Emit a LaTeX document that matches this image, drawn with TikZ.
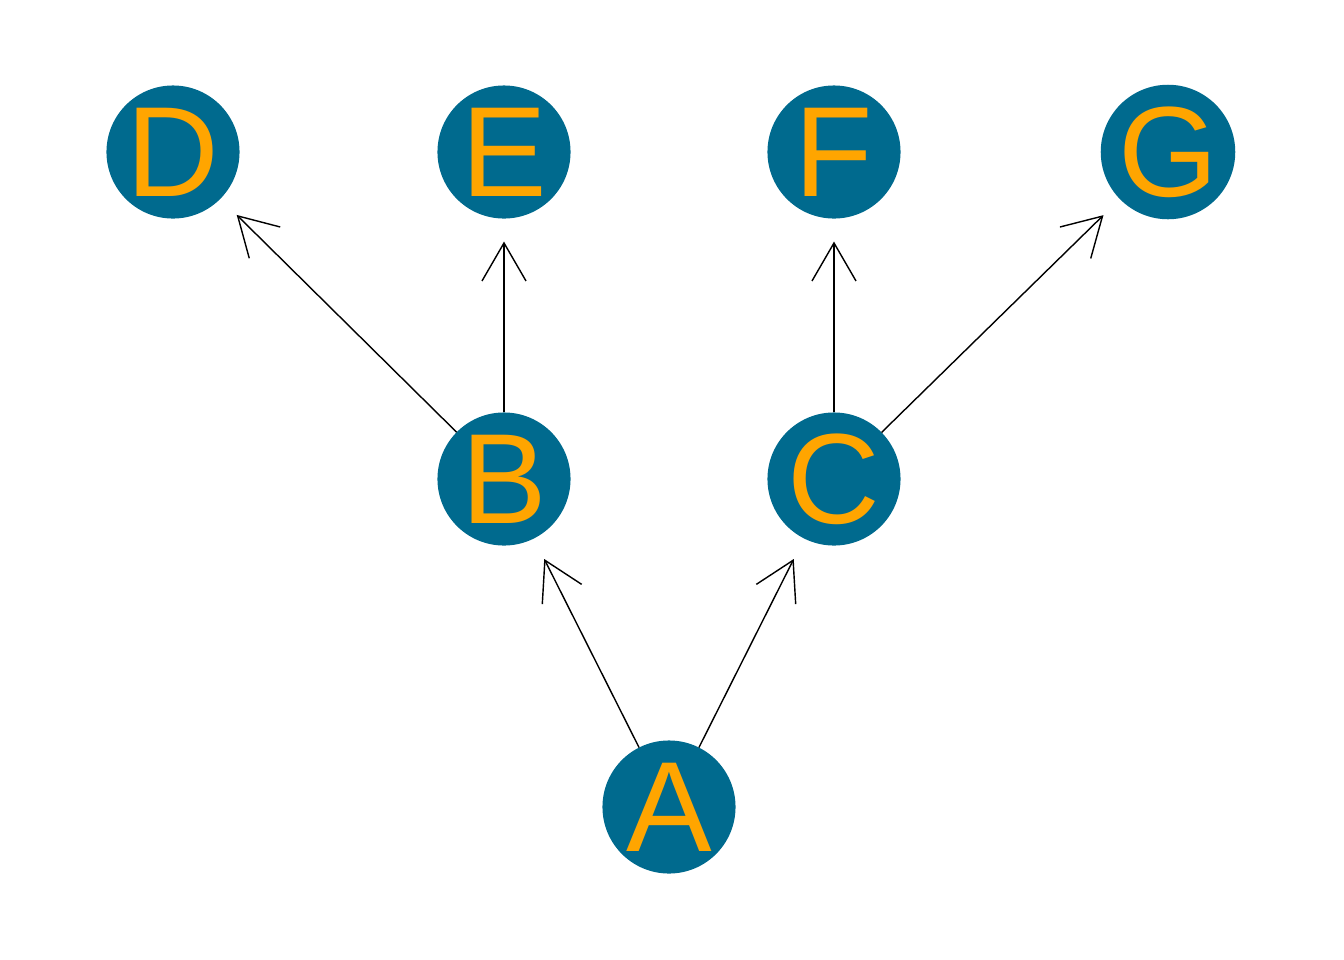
\documentclass[tikz,border=0pt]{standalone}
\usepackage{fontspec}
\setmainfont{Liberation Sans}
\usetikzlibrary{arrows.meta}
\definecolor{nodeteal}{HTML}{006A8E}
\definecolor{nodeorange}{HTML}{FFA500}
\tikzset{
  vertex/.style={circle, fill=nodeteal, draw=none, minimum size=1.33cm,
    inner sep=0pt, outer sep=0pt, text=nodeorange,
    font=\fontsize{36.5}{36.5}\selectfont},
  edge/.style={line width=0.4pt, black,
    -{Straight Barb[length=0.38cm, width=0.44cm, line width=0.4pt]},
    shorten >=0.23cm}
}
\begin{document}
\begin{tikzpicture}[x=0.01cm, y=-0.01cm]
  \useasboundingbox (0,0) rectangle (1344,960);
  % vertices
  \node[vertex] (D) at (173,152) {D};
  \node[vertex] (E) at (504,152) {E};
  \node[vertex] (F) at (834,152) {F};
  \node[vertex] (G) at (1168,152) {G};
  \node[vertex] (B) at (504,479) {B};
  \node[vertex] (C) at (834,479) {C};
  \node[vertex] (A) at (669,807) {A};
  % directed edges
  \draw[edge] (A) -- (B);
  \draw[edge] (A) -- (C);
  \draw[edge] (B) -- (D);
  \draw[edge] (B) -- (E);
  \draw[edge] (C) -- (F);
  \draw[edge] (C) -- (G);
\end{tikzpicture}
\end{document}
